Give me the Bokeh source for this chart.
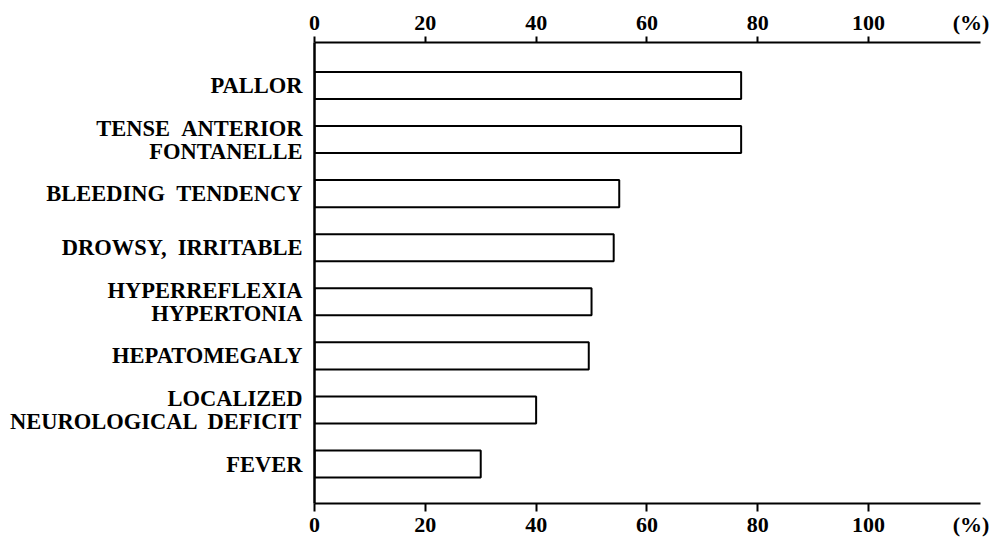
from bokeh.plotting import figure
from bokeh.models import Range1d, FixedTicker, LinearAxis
from bokeh.embed import file_html
from bokeh.resources import INLINE

# ---- data ----
categories = [
    "PALLOR",
    "TENSE \u00a0ANTERIOR\nFONTANELLE",
    "BLEEDING \u00a0TENDENCY",
    "DROWSY, \u00a0IRRITABLE",
    "HYPERREFLEXIA\nHYPERTONIA",
    "HEPATOMEGALY",
    "LOCALIZED\nNEUROLOGICAL \u00a0DEFICIT",
    "FEVER",
]
values = [77, 77, 55, 54, 50, 49.5, 40, 30]
x_ticks = [0, 20, 40, 60, 80, 100]
unit_label = "(%)"

# ---- layout / style ----
FONT = "Liberation Serif"
X_MAX = 120.2
UNIT_POS = 118.5
Y_TOP, Y_BOT = -0.795, 7.73
FRAME_W, FRAME_H = 666, 461

idx = list(range(len(categories)))

p = figure(
    frame_width=FRAME_W, frame_height=FRAME_H,
    x_range=Range1d(0, X_MAX), y_range=Range1d(Y_BOT, Y_TOP),
    x_axis_location=None, y_axis_location=None,
    output_backend="svg", toolbar_location=None,
    min_border_left=314, min_border_top=42, min_border_right=20, min_border_bottom=0,
    background_fill_color="white", border_fill_color="white",
)
p.outline_line_color = None
p.xgrid.grid_line_color = None
p.ygrid.grid_line_color = None

p.hbar(y=idx, left=0, right=values, height=0.5,
       fill_color="white", line_color="black", line_width=2)


def line_axis(out_len):
    # axis line and tick marks, labels left empty
    ax = LinearAxis(ticker=FixedTicker(ticks=x_ticks))
    ax.major_label_overrides = {t: "" for t in x_ticks}
    ax.axis_line_width = 2
    ax.axis_line_color = "black"
    ax.major_tick_line_width = 2
    ax.major_tick_in = 0
    ax.major_tick_out = out_len
    ax.minor_tick_line_color = None
    ax.major_label_standoff = 0
    return ax


def label_axis(standoff):
    # tick labels (plus the unit label), no marks
    ax = LinearAxis(ticker=FixedTicker(ticks=x_ticks + [UNIT_POS]))
    ax.major_label_overrides = {UNIT_POS: unit_label}
    ax.axis_line_color = None
    ax.major_tick_line_color = None
    ax.major_tick_in = 0
    ax.major_tick_out = 0
    ax.minor_tick_line_color = None
    ax.major_label_text_font = FONT
    ax.major_label_text_font_style = "bold"
    ax.major_label_text_font_size = "22px"
    ax.major_label_text_color = "black"
    ax.major_label_standoff = standoff
    return ax


p.add_layout(line_axis(6), "above")
p.add_layout(label_axis(2), "above")
p.add_layout(line_axis(8), "below")
p.add_layout(label_axis(0), "below")

left = LinearAxis(ticker=FixedTicker(ticks=idx))
left.major_label_overrides = {i: c for i, c in zip(idx, categories)}
left.axis_line_width = 2.5
left.axis_line_color = "black"
left.major_tick_line_color = None
left.major_tick_in = 0
left.major_tick_out = 0
left.minor_tick_line_color = None
left.major_label_standoff = 12
left.major_label_text_font = FONT
left.major_label_text_font_style = "bold"
left.major_label_text_font_size = "22.5px"
left.major_label_text_color = "black"
left.major_label_text_line_height = 0.92
p.add_layout(left, "left")

open("out.html", "w").write(file_html(p, INLINE))
